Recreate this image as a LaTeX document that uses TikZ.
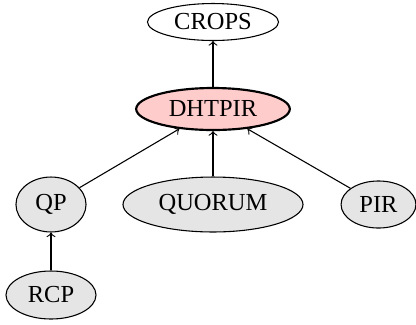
\documentclass[tikz,border=0pt]{standalone}
\usepackage{fontspec}
\setmainfont{Liberation Serif}
\usetikzlibrary{shapes.geometric}
\begin{document}
\begin{tikzpicture}[x=0.41667pt,y=-0.41667pt,
  blob/.style={ellipse,draw,line width=0.45pt,inner sep=0pt,font=\fontsize{10.2}{12}\selectfont},
  plain/.style={blob,fill=white},
  leaf/.style={blob,fill=gray!20},
  core/.style={blob,fill=red!20,line width=0.9pt},
  link/.style={->,line width=0.45pt}]
\useasboundingbox (0,0) rectangle (416,324);
\node[plain,minimum width=54.6pt,minimum height=15.4pt] (crops) at (213,22) {CROPS};
\node[core,minimum width=64pt,minimum height=17.5pt] (dht) at (213,109) {DHTPIR};
\node[leaf,minimum width=29.2pt,minimum height=22.9pt] (qp) at (51,204.5) {QP};
\node[leaf,minimum width=75pt,minimum height=22.9pt] (quorum) at (213,204.5) {QUORUM};
\node[leaf,minimum width=31.2pt,minimum height=19.6pt] (pir) at (378.5,204.5) {PIR};
\node[leaf,minimum width=37.5pt,minimum height=20pt] (rcp) at (51,295) {RCP};
\draw[link] (dht) -- (crops);
\draw[link] (qp) -- (dht);
\draw[link] (quorum) -- (dht);
\draw[link] (pir) -- (dht);
\draw[link] (rcp) -- (qp);
\end{tikzpicture}
\end{document}
